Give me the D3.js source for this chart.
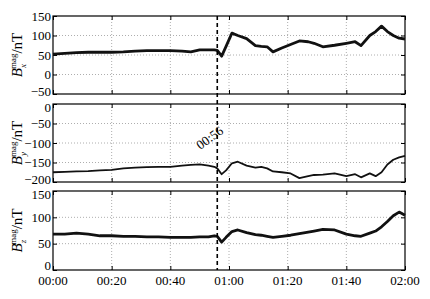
<!DOCTYPE html>
<html>
<head>
<meta charset="utf-8">
<script src="https://cdn.jsdelivr.net/npm/d3@7"></script>
<style>
  body { margin: 0; background: #fff; }
  text { font-family: "Liberation Serif", "Times New Roman", serif; }
</style>
</head>
<body>
<svg id="fig" width="430" height="299"></svg>
<script>
// minutes after 00:00
var minutes = [0, 4, 8, 12, 16, 20, 24, 28, 32, 36, 40, 44, 47, 50, 53, 55, 56, 57.5, 59, 61, 63, 66, 69, 71, 73, 75,
               78, 81, 84, 87, 89, 92, 96, 100, 103, 105, 108, 110, 112, 114, 116, 118, 120];
var bx = [52, 54, 56, 57, 57, 57, 58, 60, 61, 61, 61, 60, 58, 63, 63, 63, 62, 47, 72, 106, 100, 92, 74, 72, 71, 58,
          68, 77, 86, 84, 80, 71, 75, 80, 84, 74, 100, 110, 124, 110, 100, 93, 91];
var by = [-175, -174, -173, -172, -170, -169, -165, -163, -162, -161, -161, -158, -156, -155, -158, -161, -165, -180,
          -170, -152, -148, -158, -163, -161, -165, -173, -175, -178, -190, -185, -182, -181, -178, -185, -180, -188,
          -178, -185, -175, -155, -143, -137, -133];
var bz = [68, 68, 70, 68, 65, 65, 64, 64, 63, 63, 62, 62, 62, 63, 63, 65, 64, 53, 62, 73, 76, 71, 67, 66, 64, 62,
          64, 66, 69, 72, 74, 77, 76, 68, 65, 64, 70, 74, 82, 92, 103, 110, 104];
var xTicks = [0, 20, 40, 60, 80, 100, 120];
var xTickLabels = ["00:00", "00:20", "00:40", "01:00", "01:20", "01:40", "02:00"];
var eventMinute = 56;
var eventLabel = "00:56";

var panels = [
  {sub: "x", vals: bx, dom: [-50, 150], ticks: [-50, 0, 50, 100, 150], top: 16, bot: 94, sw: 2.8},
  {sub: "y", vals: by, dom: [-200, 0], ticks: [-200, -150, -100, -50, 0], top: 104, bot: 182, sw: 1.8},
  {sub: "z", vals: bz, dom: [0, 150], ticks: [0, 50, 100, 150], top: 191, bot: 270, sw: 2.8}
];

var left = 53, right = 405;
var svg = d3.select("#fig");
var sx = d3.scaleLinear().domain([0, 120]).range([left, right]);

panels.forEach(function(p, pi) {
  var sy = d3.scaleLinear().domain(p.dom).range([p.bot, p.top]);
  var g = svg.append("g");

  // grid
  g.selectAll(".gx").data(xTicks.slice(1, -1)).enter().append("line")
    .attr("x1", d => sx(d)).attr("x2", d => sx(d))
    .attr("y1", p.top).attr("y2", p.bot)
    .attr("stroke", "#999").attr("stroke-width", 0.8).attr("stroke-dasharray", "1,2");
  g.selectAll(".gy").data(p.ticks.slice(1, -1)).enter().append("line")
    .attr("x1", left).attr("x2", right)
    .attr("y1", d => sy(d)).attr("y2", d => sy(d))
    .attr("stroke", "#999").attr("stroke-width", 0.8).attr("stroke-dasharray", "1,2");

  // axes with inward ticks
  g.append("g").attr("transform", "translate(0," + p.bot + ")")
    .call(d3.axisTop(sx).tickValues(xTicks).tickSize(4).tickFormat(""));
  g.append("g").attr("transform", "translate(0," + p.top + ")")
    .call(d3.axisBottom(sx).tickValues(xTicks).tickSize(4).tickFormat(""));
  g.append("g").attr("transform", "translate(" + right + ",0)")
    .call(d3.axisLeft(sy).tickValues(p.ticks).tickSize(4).tickFormat(""));
  var ya = g.append("g").attr("transform", "translate(" + left + ",0)")
    .call(d3.axisRight(sy).tickValues(p.ticks).tickSize(4));
  ya.selectAll("text").attr("x", -2).attr("text-anchor", "end")
    .attr("font-family", "Liberation Serif, serif").attr("font-size", 13).attr("fill", "#000")
    .attr("dy", function(d) {
      // keep labels at shared panel edges from colliding
      if (d === p.dom[0]) return pi === 2 ? "-0.05em" : "0.1em";
      if (d === p.dom[1] && pi > 0) return "0.55em";
      return "0.32em";
    });
  g.selectAll(".domain").remove();
  g.selectAll(".tick line").attr("stroke", "#000").attr("stroke-width", 1);

  g.append("rect").attr("x", left).attr("y", p.top)
    .attr("width", right - left).attr("height", p.bot - p.top)
    .attr("fill", "none").attr("stroke", "#000").attr("stroke-width", 1.2);

  // series
  var line = d3.line().x((d, i) => sx(minutes[i])).y(d => sy(d));
  g.append("path").attr("d", line(p.vals))
    .attr("fill", "none").attr("stroke", "#111").attr("stroke-width", p.sw)
    .attr("stroke-linejoin", "round");

  // y label
  var cy = (p.top + p.bot) / 2;
  var t = g.append("text").attr("transform", "translate(22," + cy + ") rotate(-90)")
    .attr("text-anchor", "middle").attr("font-size", 15);
  t.append("tspan").attr("font-style", "italic").text("B");
  t.append("tspan").attr("font-size", 9).attr("font-style", "italic").attr("dy", 4).text(p.sub);
  t.append("tspan").attr("font-size", 9).attr("dx", -5).attr("dy", -10).text("mag");
  t.append("tspan").attr("dy", 6).text("/nT");
});

// x labels
svg.selectAll(".xl").data(xTicks).enter().append("text")
  .attr("x", d => sx(d)).attr("y", 285)
  .attr("text-anchor", "middle").attr("font-size", 13)
  .text((d, i) => xTickLabels[i]);

// event line
svg.append("line")
  .attr("x1", sx(eventMinute)).attr("x2", sx(eventMinute))
  .attr("y1", panels[0].top).attr("y2", panels[2].bot)
  .attr("stroke", "#000").attr("stroke-width", 1.6).attr("stroke-dasharray", "4,3");
svg.append("text")
  .attr("transform", "translate(" + (sx(eventMinute) - 17) + ",150) rotate(-36)")
  .attr("font-size", 13).text(eventLabel);
</script>
</body>
</html>
